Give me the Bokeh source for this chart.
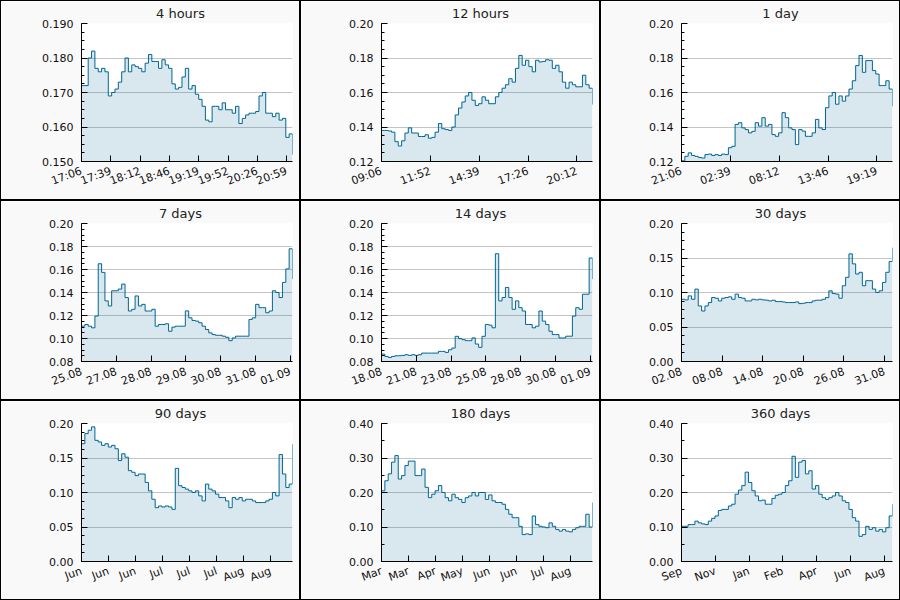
import numpy as np
from bokeh.plotting import figure
from bokeh.layouts import gridplot
from bokeh.models import FixedTicker, NumeralTickFormatter, Range1d
from bokeh.embed import file_html
from bokeh.resources import INLINE

# ---------------- data ----------------
titles = ["4 hours", "12 hours", "1 day", "7 days", "14 days", "30 days",
          "90 days", "180 days", "360 days"]

# window length in hours
windows = [4, 12, 24, 168, 336, 720, 2160, 4320, 8640]

v_4h = [0.172,0.172,0.180,0.182,0.177,0.176,0.177,0.176,0.169,0.170,
        0.171,0.173,0.176,0.180,0.176,0.178,0.1775,0.177,0.176,0.1785,
        0.181,0.179,0.179,0.177,0.1795,0.178,0.177,0.1725,0.171,0.1715,
        0.1745,0.177,0.171,0.172,0.1695,0.168,0.166,0.162,0.1615,0.166,
        0.166,0.165,0.167,0.165,0.165,0.164,0.166,0.161,0.1625,0.1635,
        0.164,0.164,0.1645,0.169,0.170,0.164,0.164,0.163,0.164,0.162,
        0.1625,0.157,0.158,0.152]
v_12h = [0.138,0.138,0.1377,0.137,0.1315,0.129,0.132,0.1365,0.1395,0.1365,
         0.1365,0.1345,0.1345,0.1355,0.1335,0.134,0.137,0.142,0.139,0.1385,
         0.138,0.140,0.147,0.151,0.1545,0.158,0.160,0.1555,0.1525,0.1535,
         0.1575,0.1555,0.1535,0.1535,0.1575,0.160,0.1625,0.1645,0.168,0.166,
         0.174,0.1815,0.1758,0.1787,0.175,0.172,0.1787,0.1777,0.178,0.179,
         0.1787,0.174,0.1758,0.172,0.166,0.1625,0.166,0.1645,0.1633,0.1633,
         0.170,0.1645,0.1625,0.153]
v_1d = [0.1204,0.123,0.125,0.1235,0.123,0.1223,0.122,0.124,0.1243,0.1235,
        0.124,0.1235,0.1243,0.124,0.128,0.1288,0.1415,0.1425,0.1395,0.1385,
        0.1366,0.1375,0.1425,0.1405,0.1454,0.1405,0.1415,0.1356,0.1346,0.1366,
        0.1483,0.1454,0.1395,0.1385,0.1298,0.1385,0.1376,0.1346,0.1346,0.1366,
        0.1444,0.1395,0.1385,0.1512,0.158,0.160,0.1532,0.158,0.155,0.158,
        0.162,0.1668,0.1756,0.1815,0.1717,0.1785,0.1785,0.1727,0.1707,0.164,
        0.164,0.1668,0.162,0.152]
v_7d = [0.1107,0.1122,0.1107,0.1093,0.1195,0.165,0.1575,0.1327,0.1283,0.1415,
        0.1415,0.143,0.1473,0.1356,0.1239,0.1254,0.137,0.1283,0.1297,0.1239,
        0.1239,0.1254,0.1107,0.1122,0.1122,0.1128,0.1063,0.1099,0.1107,0.1107,
        0.1107,0.124,0.118,0.1157,0.1151,0.1137,0.1107,0.1078,0.1049,0.1034,
        0.1028,0.1028,0.102,0.1011,0.0981,0.1005,0.102,0.102,0.102,0.102,
        0.1166,0.118,0.1297,0.1268,0.1268,0.1224,0.1239,0.1415,0.140,0.1356,
        0.1488,0.1605,0.178,0.1517]
v_14d = [0.0864,0.0844,0.0835,0.0844,0.085,0.085,0.0853,0.0859,0.0853,0.0859,
         0.0853,0.0859,0.0873,0.0873,0.0873,0.0873,0.0873,0.0888,0.0888,0.0879,
         0.0902,0.0917,0.1019,0.0999,0.099,0.0981,0.0981,0.1005,0.0952,0.0923,
         0.1019,0.1122,0.1116,0.1093,0.1737,0.1327,0.1356,0.1444,0.1356,0.1254,
         0.1327,0.1268,0.1239,0.1122,0.1122,0.1093,0.1107,0.1239,0.1151,0.1122,
         0.1063,0.1034,0.1034,0.1005,0.1005,0.102,0.102,0.1195,0.1268,0.1254,
         0.1385,0.1385,0.170,0.1517]
v_30d = [0.0902,0.0893,0.0951,0.0902,0.1049,0.0805,0.0732,0.0805,0.0854,0.0927,
         0.0917,0.0878,0.0917,0.0927,0.0937,0.0902,0.0976,0.0927,0.0917,0.0878,
         0.0878,0.0902,0.0893,0.0902,0.0893,0.0888,0.0878,0.0888,0.0868,0.0868,
         0.0863,0.0854,0.0854,0.0854,0.0863,0.0839,0.0844,0.0854,0.0854,0.0878,
         0.0888,0.0888,0.0902,0.0927,0.1024,0.0985,0.0976,0.0917,0.1098,0.122,
         0.156,0.1415,0.1268,0.1293,0.1098,0.1171,0.1171,0.1049,0.100,0.1024,
         0.1146,0.1293,0.145,0.165]
v_90d = [0.1707,0.1854,0.1902,0.1951,0.1756,0.1732,0.1683,0.1707,0.1659,0.1683,
         0.1634,0.1463,0.1561,0.1512,0.1317,0.1293,0.1244,0.1268,0.1268,0.1146,
         0.1024,0.0902,0.078,0.0805,0.079,0.0805,0.079,0.0756,0.135,0.1098,
         0.1073,0.1049,0.1024,0.100,0.1024,0.0951,0.0878,0.1122,0.1049,0.1024,
         0.0976,0.0927,0.0927,0.0878,0.078,0.0927,0.0902,0.0927,0.0878,0.0902,
         0.0902,0.0878,0.0854,0.0854,0.0854,0.0878,0.0902,0.100,0.0951,0.155,
         0.1268,0.1073,0.1122,0.170]
v_180d = [0.205,0.234,0.254,0.288,0.307,0.239,0.249,0.278,0.291,0.291,
          0.249,0.249,0.268,0.215,0.185,0.195,0.205,0.22,0.2,0.185,
          0.176,0.195,0.185,0.18,0.171,0.185,0.19,0.2,0.19,0.2,
          0.2,0.18,0.193,0.176,0.171,0.171,0.166,0.151,0.137,0.127,
          0.127,0.102,0.078,0.08,0.078,0.132,0.107,0.102,0.1,0.098,
          0.112,0.102,0.093,0.088,0.093,0.088,0.086,0.093,0.098,0.102,
          0.102,0.137,0.10,0.171]
v_360d = [0.102,0.102,0.107,0.107,0.117,0.112,0.109,0.107,0.117,0.125,
          0.132,0.148,0.151,0.151,0.161,0.166,0.195,0.207,0.22,0.259,
          0.229,0.205,0.19,0.176,0.178,0.166,0.166,0.183,0.192,0.195,
          0.2,0.22,0.234,0.305,0.244,0.288,0.293,0.254,0.263,0.21,
          0.22,0.195,0.185,0.18,0.185,0.19,0.2,0.19,0.176,0.171,
          0.151,0.127,0.117,0.073,0.078,0.102,0.093,0.098,0.088,0.093,
          0.086,0.098,0.132,0.166]
series = [v_4h, v_12h, v_1d, v_7d, v_14d, v_30d, v_90d, v_180d, v_360d]

# x tick positions (hours from window start) and their labels
x_ticks = [
    [0, 0.5556, 1.1111, 1.6667, 2.2222, 2.7778, 3.3333, 3.8889],
    [0, 2.7778, 5.5556, 8.3333, 11.1111],
    [0, 5.5556, 11.1111, 16.6667, 22.2222],
    [0, 27.7, 55.4, 83.1, 110.8, 138.5, 166.2],
    [0, 55.4, 110.8, 166.2, 221.6, 277.0, 332.4],
    [0, 138.5, 277.0, 415.5, 554.0, 692.5],
    [0, 276.7, 553.4, 830.1, 1106.8, 1383.5, 1660.2, 1936.9],
    [0, 553.4, 1106.8, 1660.2, 2213.6, 2767.0, 3320.4, 3873.8],
    [0, 1385, 2770, 4155, 5540, 6925, 8310],
]
x_labels = [
    ["17:06", "17:39", "18:12", "18:46", "19:19", "19:52", "20:26", "20:59"],
    ["09:06", "11:52", "14:39", "17:26", "20:12"],
    ["21:06", "02:39", "08:12", "13:46", "19:19"],
    ["25.08", "27.08", "28.08", "29.08", "30.08", "31.08", "01.09"],
    ["18.08", "21.08", "23.08", "25.08", "28.08", "30.08", "01.09"],
    ["02.08", "08.08", "14.08", "20.08", "26.08", "31.08"],
    ["Jun", "Jun", "Jun", "Jul", "Jul", "Jul", "Aug", "Aug"],
    ["Mar", "Mar", "Apr", "May", "Jun", "Jun", "Jul", "Aug"],
    ["Sep", "Nov", "Jan", "Feb", "Apr", "Jun", "Aug"],
]

# y axis: (min, max, major step, minor intervals, format)
y_min = [0.150, 0.12, 0.12, 0.08, 0.08, 0.0, 0.0, 0.0, 0.0]
y_max = [0.190, 0.20, 0.20, 0.20, 0.20, 0.20, 0.20, 0.40, 0.40]
y_step = [0.01, 0.02, 0.02, 0.02, 0.02, 0.05, 0.05, 0.10, 0.10]
y_minor = [4, 4, 4, 4, 4, 4, 4, 2, 2]
y_fmt = ["0.000", "0.00", "0.00", "0.00", "0.00", "0.00", "0.00", "0.00", "0.00"]

# ---------------- style ----------------
FONT = "DejaVu Sans"
LINE = "#006693"
PANEL_BG = "#f9f9f9"
TITLE_PX = 13
# DejaVu Sans advance widths (em) to centre each title slightly left of the frame centre
ADV = {" ": 0.318, "a": 0.613, "d": 0.635, "h": 0.634, "o": 0.612, "r": 0.411,
       "s": 0.521, "u": 0.634, "y": 0.592}


def text_width(s):
    return sum(ADV.get(c, 0.636) for c in s) * TITLE_PX


def make_panel(i):
    vals = np.array(series[i])
    x = np.linspace(0, windows[i], len(vals))
    lo, hi = y_min[i], y_max[i]
    p = figure(width=300, height=200, output_backend="svg", toolbar_location=None,
               x_range=Range1d(0, windows[i]), y_range=Range1d(lo, hi),
               min_border_left=80, min_border_right=9, min_border_top=22,
               min_border_bottom=40,
               styles={"border": "1px solid black"})
    p.border_fill_color = PANEL_BG
    p.background_fill_color = "white"
    p.outline_line_color = None

    p.title.text = titles[i]
    p.title.align = "left"
    p.title.offset = 99 - text_width(titles[i]) / 2
    p.title.vertical_align = "top"
    p.title.text_line_height = 0.7
    p.title.text_font = FONT
    p.title.text_font_size = f"{TITLE_PX}px"
    p.title.text_font_style = "normal"
    p.title.text_color = "#222222"
    p.title.standoff = 2

    p.varea_step(x=x, y1=lo, y2=vals, step_mode="after",
                 fill_color=LINE, fill_alpha=0.15)
    p.step(x=x, y=vals, mode="after", line_color=LINE, line_width=1)

    # y axis
    nmaj = int(round((hi - lo) / y_step[i]))
    majors = [round(lo + k * y_step[i], 4) for k in range(nmaj + 1)]
    mstep = y_step[i] / y_minor[i]
    minors = [round(lo + k * mstep, 5) for k in range(nmaj * y_minor[i] + 1)]
    p.yaxis.ticker = FixedTicker(ticks=majors, minor_ticks=minors)
    p.yaxis.formatter = NumeralTickFormatter(format=y_fmt[i])
    p.yaxis.major_tick_in = 6
    p.yaxis.major_tick_out = 0
    p.yaxis.minor_tick_in = 3
    p.yaxis.minor_tick_out = 0
    p.yaxis.major_label_standoff = 8

    # x axis
    p.xaxis.ticker = FixedTicker(ticks=x_ticks[i], minor_ticks=[])
    p.xaxis.major_label_overrides = {t: l for t, l in zip(x_ticks[i], x_labels[i])}
    p.xaxis.major_tick_in = 6
    p.xaxis.major_tick_out = 0
    p.xaxis.major_label_orientation = 0.35
    p.xaxis.major_label_standoff = 9

    for ax in (p.xaxis, p.yaxis):
        ax.axis_line_color = "black"
        ax.major_tick_line_color = "black"
        ax.major_label_text_font = FONT
        ax.major_label_text_font_size = "11px"
        ax.major_label_text_color = "#111111"
    p.xaxis.minor_tick_line_color = None
    p.yaxis.minor_tick_line_color = "black"

    p.xgrid.grid_line_color = None
    p.ygrid.grid_line_color = "#c4c4c4"
    return p


panels = [make_panel(i) for i in range(9)]
grid = gridplot([panels[0:3], panels[3:6], panels[6:9]], toolbar_location=None)

open("out.html", "w").write(file_html(grid, INLINE))
